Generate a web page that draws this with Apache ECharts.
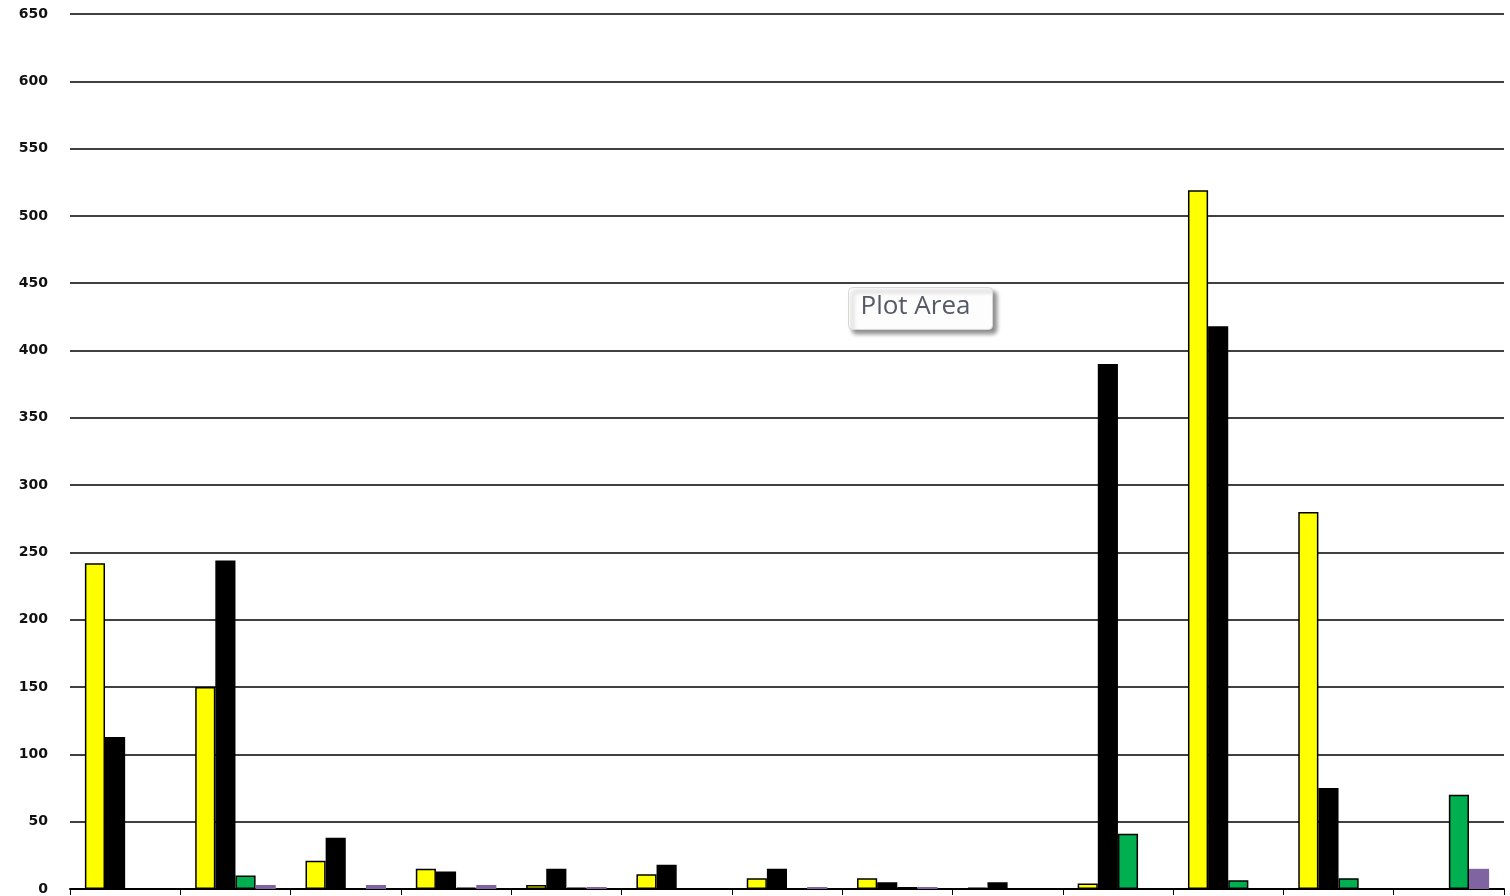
<!DOCTYPE html>
<html>
<head>
<meta charset="utf-8">
<title>Chart</title>
<script src="https://cdn.jsdelivr.net/npm/echarts@6/dist/echarts.min.js"></script>
<style>
  html, body { margin: 0; padding: 0; background: #fff; }
  #chart { width: 1510px; height: 896px; }
</style>
</head>
<body>
<div id="chart"></div>
<script>
// categories (axis labels are cut off in the reference)
var categories = ["1", "2", "3", "4", "5", "6", "7", "8", "9", "10", "11", "12", "13"];

// series values
var yellowValues = [242, 150, 21, 15, 3, 11, 8, 8, 1, 4, 519, 280, 0];
var blackValues  = [113, 244, 38, 13, 15, 18, 15, 5, 5, 390, 418, 75, 0];
var greenValues  = [0, 10, 0, 1, 1, 0, 0, 1.5, 0, 41, 6.5, 8, 70];
var purpleValues = [0, 3, 3, 3, 1.5, 0, 1.5, 1.5, 0, 0, 0, 0, 15];

var chartDom = document.getElementById("chart");
var myChart = echarts.init(chartDom);

function barSeries(name, data, color, border) {
  return {
    name: name,
    type: "bar",
    data: data,
    barGap: "0%",
    barCategoryGap: "27%",
    itemStyle: {
      color: color,
      borderColor: border ? "#000" : color,
      borderWidth: border ? 1.5 : 0
    }
  };
}

var option = {
  animation: false,
  grid: { left: 70, right: 6, top: 14, bottom: 3, containLabel: false },
  xAxis: {
    type: "category",
    data: categories,
    axisLine: { lineStyle: { color: "#000", width: 2 } },
    axisTick: { show: true, length: 6, lineStyle: { color: "#000", width: 1 } },
    axisLabel: { show: false },
    splitLine: { show: false }
  },
  yAxis: {
    type: "value",
    min: 0,
    max: 650,
    interval: 50,
    axisLine: { show: false },
    axisTick: { show: false },
    axisLabel: {
      color: "#111",
      fontFamily: "DejaVu Sans",
      fontWeight: "bold",
      fontSize: 14,
      margin: 22
    },
    splitLine: { lineStyle: { color: "#000", width: 1.5 } }
  },
  series: [
    barSeries("yellow", yellowValues, "#FFFF00", true),
    barSeries("black", blackValues, "#000000", true),
    barSeries("green", greenValues, "#00B050", true),
    barSeries("purple", purpleValues, "#8064A2", false)
  ],
  graphic: [
    {
      type: "group",
      left: 848,
      top: 287,
      children: [
        {
          type: "rect",
          shape: { x: 0, y: 0, width: 144, height: 42, r: 4 },
          style: {
            fill: "#fdfdfd",
            stroke: "#d8d8d8",
            lineWidth: 1,
            shadowBlur: 4,
            shadowOffsetX: 4,
            shadowOffsetY: 4,
            shadowColor: "rgba(0,0,0,0.45)"
          }
        },
        {
          type: "text",
          x: 12,
          y: 6,
          style: {
            text: "Plot Area",
            font: "26px 'Open Sans', sans-serif",
            fill: "#555a66"
          }
        }
      ]
    }
  ]
};

myChart.setOption(option);

window.addEventListener("resize", function () {
  myChart.resize();
});
</script>
</body>
</html>
